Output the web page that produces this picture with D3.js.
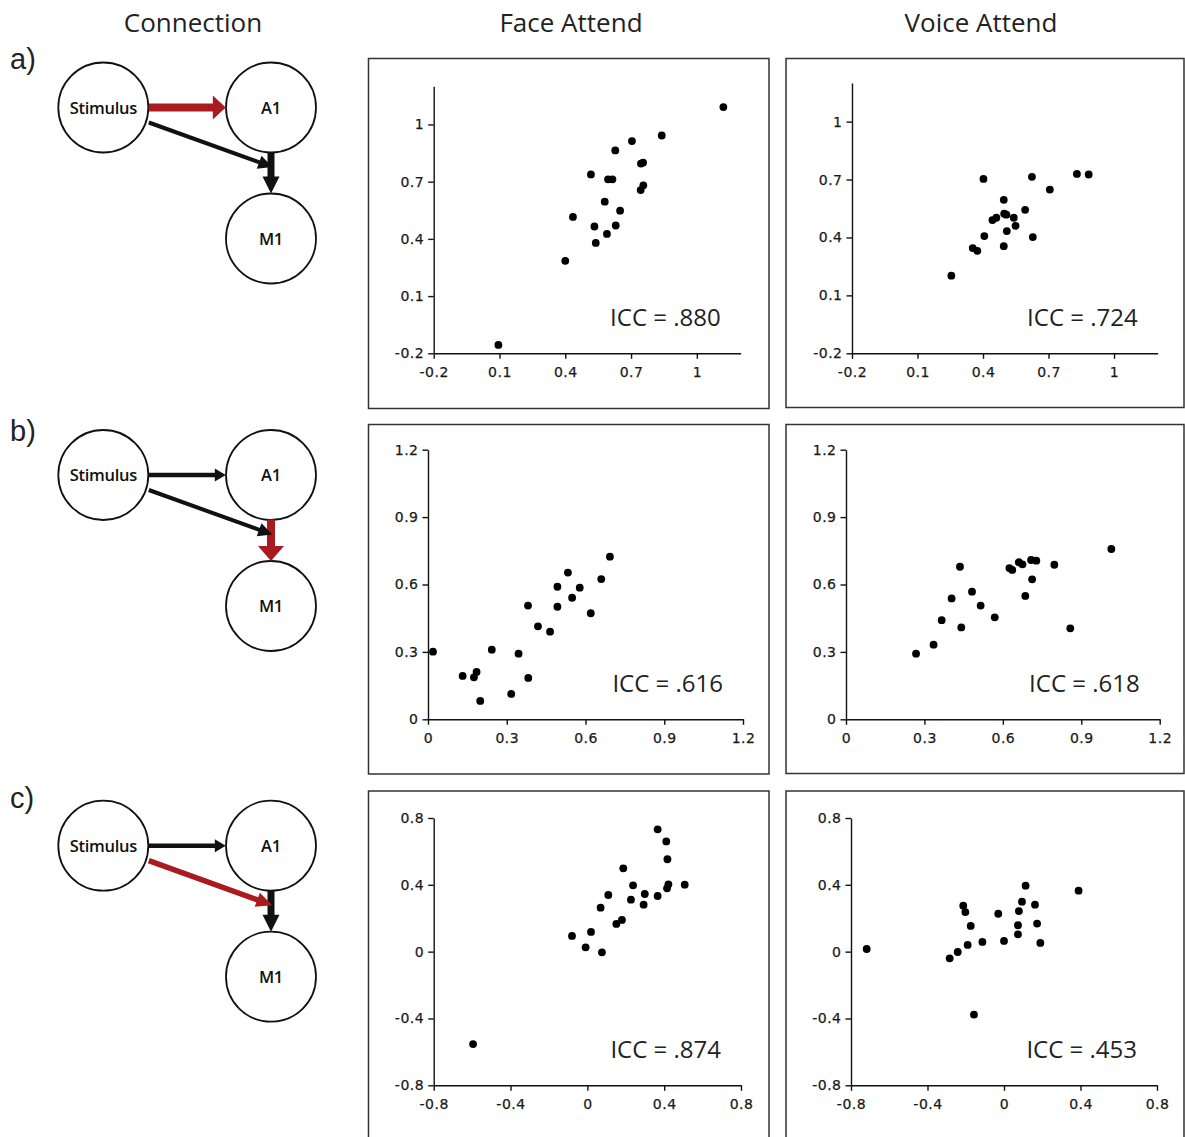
<!DOCTYPE html>
<html>
<head>
<meta charset="utf-8">
<script src="https://cdn.jsdelivr.net/npm/d3@7"></script>
<style>
  body { margin: 0; background: #fff; }
</style>
</head>
<body>
<div id="fig"></div>
<script>

var svgWidth = 1185;
var svgHeight = 1137;

// text
var columnTitles = ["Connection", "Face Attend", "Voice Attend"];
var rowLabels = ["a)", "b)", "c)"];
var nodeNames = ["Stimulus", "A1", "M1"];
var highlighted = ["S-A1", "A1-M1", "S-M1"];   // red connection in each row
var iccFace = [".880", ".616", ".874"];
var iccVoice = [".724", ".618", ".453"];

// axes
var domainA = [-0.2, 1.2];
var domainB = [0, 1.2];
var domainC = [-0.8, 0.8];
var ticksA = [-0.2, 0.1, 0.4, 0.7, 1];
var ticksB = [0, 0.3, 0.6, 0.9, 1.2];
var ticksC = [-0.8, -0.4, 0, 0.4, 0.8];

// a) Stimulus -> A1
var faceA = [[1.121, 1.091], [0.840, 0.942], [0.704, 0.913], [0.628, 0.864], [0.745, 0.795],
  [0.755, 0.800], [0.517, 0.738], [0.595, 0.712], [0.615, 0.712], [0.756, 0.681],
  [0.744, 0.656], [0.580, 0.595], [0.650, 0.548], [0.435, 0.515], [0.533, 0.465],
  [0.630, 0.470], [0.590, 0.426], [0.539, 0.379], [0.400, 0.285], [0.095, -0.156]];
var voiceA = [[0.830, 0.729], [0.884, 0.726], [0.624, 0.714], [0.402, 0.703], [0.706, 0.648],
  [0.495, 0.595], [0.593, 0.543], [0.497, 0.523], [0.507, 0.518], [0.541, 0.502],
  [0.461, 0.502], [0.443, 0.490], [0.549, 0.460], [0.509, 0.433], [0.406, 0.407],
  [0.628, 0.402], [0.495, 0.355], [0.353, 0.345], [0.374, 0.331], [0.255, 0.202]];

// b) A1 -> M1
var faceB = [[0.693, 0.724], [0.533, 0.653], [0.660, 0.624], [0.493, 0.590], [0.578, 0.586],
  [0.549, 0.541], [0.381, 0.506], [0.493, 0.501], [0.620, 0.472], [0.419, 0.414],
  [0.465, 0.390], [0.019, 0.301], [0.243, 0.310], [0.345, 0.292], [0.132, 0.193],
  [0.175, 0.187], [0.185, 0.211], [0.382, 0.184], [0.317, 0.113], [0.199, 0.082]];
var voiceB = [[1.015, 0.758], [0.708, 0.709], [0.728, 0.706], [0.661, 0.699], [0.675, 0.690],
  [0.625, 0.673], [0.636, 0.665], [0.797, 0.688], [0.436, 0.679], [0.712, 0.623],
  [0.482, 0.568], [0.404, 0.538], [0.686, 0.549], [0.515, 0.506], [0.569, 0.454],
  [0.366, 0.441], [0.441, 0.409], [0.858, 0.405], [0.335, 0.332], [0.268, 0.292]];

// c) Stimulus -> M1
var faceC = [[0.366, 0.732], [0.411, 0.660], [0.417, 0.553], [0.187, 0.499], [0.238, 0.397],
  [0.507, 0.401], [0.422, 0.403], [0.415, 0.379], [0.109, 0.339], [0.299, 0.345],
  [0.366, 0.333], [0.227, 0.311], [0.293, 0.281], [0.069, 0.263], [0.180, 0.190],
  [0.151, 0.166], [0.019, 0.118], [-0.080, 0.094], [-0.009, 0.026], [0.076, -0.004],
  [-0.595, -0.553]];
var voiceC = [[0.113, 0.395], [0.390, 0.365], [0.094, 0.299], [-0.213, 0.275], [0.162, 0.281],
  [-0.202, 0.237], [-0.030, 0.227], [0.078, 0.243], [0.173, 0.168], [0.073, 0.158],
  [-0.174, 0.154], [0.073, 0.104], [0.000, 0.064], [-0.113, 0.058], [0.190, 0.052],
  [-0.190, 0.040], [-0.718, 0.016], [-0.242, -0.002], [-0.284, -0.040], [-0.157, -0.377]];


var red = "#a91b1e";
var ink = "#111";

var svg = d3.select("#fig")
  .append("svg")
  .attr("width", svgWidth)
  .attr("height", svgHeight);

// headers
var headerX = [193, 571, 981];
svg.selectAll("text.header")
  .data(columnTitles)
  .enter()
  .append("text")
  .attr("class", "header")
  .attr("x", function (d, i) { return headerX[i]; })
  .attr("y", 32)
  .attr("text-anchor", "middle")
  .style("font-family", "'Open Sans', sans-serif")
  .style("font-size", "26px")
  .attr("fill", "#222")
  .text(function (d) { return d; });

var rowLabelY = [69, 441, 808];
svg.selectAll("text.rowlabel")
  .data(rowLabels)
  .enter()
  .append("text")
  .attr("class", "rowlabel")
  .attr("x", 10)
  .attr("y", function (d, i) { return rowLabelY[i]; })
  .style("font-family", "'Liberation Sans', Arial, sans-serif")
  .style("font-size", "29px")
  .attr("fill", "#222")
  .text(function (d) { return d; });


// ---------- connection diagrams ----------
var diagramOrigin = [[103.3, 107.5], [103.3, 475], [103.3, 845.7]];   // Stimulus centre
var nodePos = [[0, 0], [167.7, 0], [167.7, 131]];
var nodeR = 45;

// connection geometry relative to the Stimulus centre
var links = [
  { id: "A1-M1", from: [167.7, 44.5], to: [167.7, 86],
    plain: { w: 7, len: 17, head: 17 }, hot: { w: 8, len: 15, head: 26 } },
  { id: "S-M1", from: [45.5, 15], to: [169, 59.5],
    plain: { w: 4, len: 14, head: 14 }, hot: { w: 5.5, len: 16, head: 15 } },
  { id: "S-A1", from: [45.5, 0], to: [122.5, 0],
    plain: { w: 4.5, len: 11, head: 13 }, hot: { w: 8, len: 13, head: 24 } }
];

function drawArrow(g, p0, p1, st, color) {
  var dx = p1[0] - p0[0], dy = p1[1] - p0[1];
  var L = Math.sqrt(dx * dx + dy * dy);
  var ux = dx / L, uy = dy / L, nx = -uy, ny = ux;
  var bx = p1[0] - ux * st.len, by = p1[1] - uy * st.len;
  g.append("line")
    .attr("x1", p0[0]).attr("y1", p0[1])
    .attr("x2", bx + ux).attr("y2", by + uy)
    .attr("stroke", color)
    .attr("stroke-width", st.w);
  g.append("path")
    .attr("d", "M" + p1[0] + "," + p1[1] +
      "L" + (bx + nx * st.head / 2) + "," + (by + ny * st.head / 2) +
      "L" + (bx - nx * st.head / 2) + "," + (by - ny * st.head / 2) + "Z")
    .attr("fill", color);
}

diagramOrigin.forEach(function (o, row) {
  var g = svg.append("g").attr("transform", `translate(${o[0]}, ${o[1]})`);

  g.selectAll("circle")
    .data(nodePos)
    .enter()
    .append("circle")
    .attr("cx", function (d) { return d[0]; })
    .attr("cy", function (d) { return d[1]; })
    .attr("r", nodeR)
    .attr("fill", "#fff")
    .attr("stroke", ink)
    .attr("stroke-width", 1.8);

  g.selectAll("text")
    .data(nodeNames)
    .enter()
    .append("text")
    .attr("x", function (d, i) { return nodePos[i][0]; })
    .attr("y", function (d, i) { return nodePos[i][1] + 6; })
    .attr("text-anchor", "middle")
    .style("font-family", "'Open Sans', sans-serif")
    .style("font-size", "16.5px")
    .style("font-weight", "600")
    .style("letter-spacing", "-0.3px")
    .attr("fill", ink)
    .text(function (d) { return d; });

  links.forEach(function (lk) {
    var hot = lk.id === highlighted[row];
    drawArrow(g, lk.from, lk.to, hot ? lk.hot : lk.plain, hot ? red : ink);
  });
});


// ---------- scatter panels ----------
var panels = [
  { data: faceA, icc: iccFace[0], dom: domainA, ticks: ticksA, box: [368.5, 58.5, 400.5, 350], plot: [433.7, 86.3, 740.7, 353.3] },
  { data: voiceA, icc: iccVoice[0], dom: domainA, ticks: ticksA, box: [786, 58.5, 398, 349], plot: [852, 83, 1157.7, 353.3] },
  { data: faceB, icc: iccFace[1], dom: domainB, ticks: ticksB, box: [368.5, 424.5, 400.5, 349.5], plot: [428, 449.7, 743, 719.3] },
  { data: voiceB, icc: iccVoice[1], dom: domainB, ticks: ticksB, box: [786, 424.5, 398, 349], plot: [846, 449.7, 1159.7, 719.3] },
  { data: faceC, icc: iccFace[2], dom: domainC, ticks: ticksC, box: [368.5, 791, 400.5, 360], plot: [433.7, 818, 741, 1085.3] },
  { data: voiceC, icc: iccVoice[2], dom: domainC, ticks: ticksC, box: [786, 791, 398, 360], plot: [851, 818, 1157, 1085.3] }
];

function fmt(d) { return String(+d.toFixed(1)); }

panels.forEach(function (p) {
  svg.append("rect")
    .attr("x", p.box[0]).attr("y", p.box[1])
    .attr("width", p.box[2]).attr("height", p.box[3])
    .attr("fill", "none")
    .attr("stroke", "#333")
    .attr("stroke-width", 1.5);

  var width = p.plot[2] - p.plot[0];
  var height = p.plot[3] - p.plot[1];
  var chartGroup = svg.append("g")
    .attr("transform", `translate(${p.plot[0]}, ${p.plot[1]})`);

  var xScale = d3.scaleLinear().domain(p.dom).range([0, width]);
  var yScale = d3.scaleLinear().domain(p.dom).range([height, 0]);

  var xAxis = chartGroup.append("g")
    .attr("transform", `translate(0, ${height})`)
    .call(d3.axisBottom(xScale).tickValues(p.ticks).tickFormat(fmt).tickSize(5.5).tickSizeOuter(0).tickPadding(8));
  var yAxis = chartGroup.append("g")
    .call(d3.axisLeft(yScale).tickValues(p.ticks).tickFormat(fmt).tickSize(5.5).tickSizeOuter(0).tickPadding(4));

  [xAxis, yAxis].forEach(function (ax) {
    ax.selectAll("path, line").attr("stroke", ink).attr("stroke-width", 1.4);
    ax.selectAll("text")
      .attr("fill", "#1a1a1a")
      .attr("stroke", "#1a1a1a")
      .attr("stroke-width", 0.25)
      .style("font-family", "'DejaVu Sans', sans-serif")
      .style("font-size", "14px")
      .style("letter-spacing", "0.5px");
  });

  chartGroup.selectAll("circle")
    .data(p.data)
    .enter()
    .append("circle")
    .attr("cx", function (d) { return xScale(d[0]); })
    .attr("cy", function (d) { return yScale(d[1]); })
    .attr("r", 3.9)
    .attr("fill", "#000");

  chartGroup.append("text")
    .attr("x", width - 20)
    .attr("y", height - 27)
    .attr("text-anchor", "end")
    .style("font-family", "'Open Sans', sans-serif")
    .style("font-size", "24px")
    .attr("fill", "#222")
    .text("ICC = " + p.icc);
});

</script>
</body>
</html>
